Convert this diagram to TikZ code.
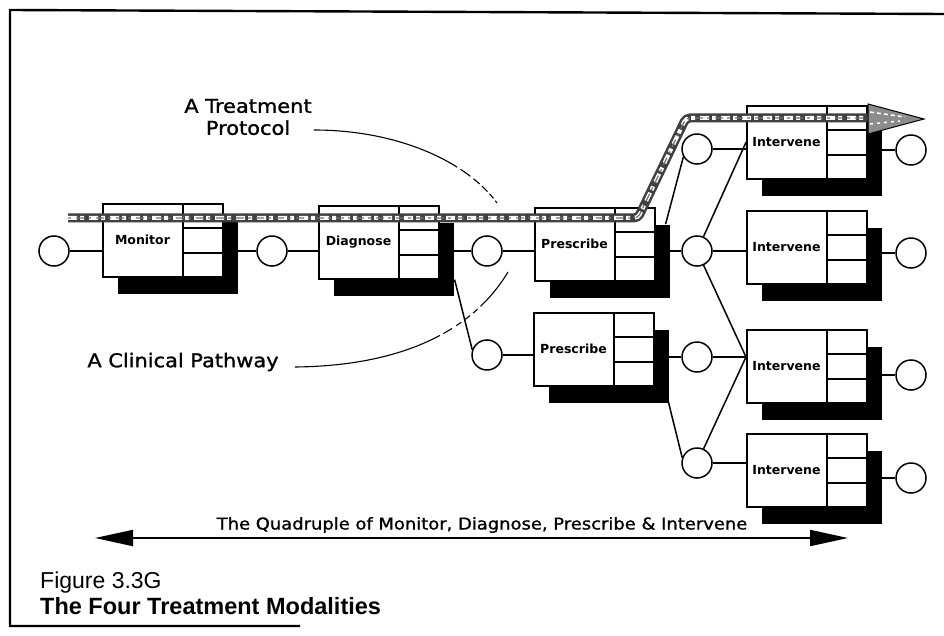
\documentclass[tikz,border=0pt]{standalone}
\usepackage{fontspec}
\setmainfont{DejaVu Sans}
\newfontfamily\boxfont{DejaVu Sans}
\newfontfamily\widefont[FakeStretch=1.1,FakeBold=1.2]{DejaVu Sans}
\newfontfamily\capfont{Liberation Sans}
\usetikzlibrary{shadows,arrows.meta,calc}
\pgfdeclarelayer{bg}
\pgfdeclarelayer{links}
\pgfsetlayers{bg,links,main}

% one process box: shadow, frame, divider, three cells, label
\newcommand\mkbox[4]{%
  \node[pbox] (#1) at (#2,#3) {};
  \draw[pline] ([xshift=81pt]#1.north west) -- ([xshift=81pt]#1.south west);
  \draw[pline] ([xshift=81pt,yshift=-25pt]#1.north west) -- ([yshift=-25pt]#1.north east);
  \draw[pline] ([xshift=81pt,yshift=-50pt]#1.north west) -- ([yshift=-50pt]#1.north east);
  \node[plabel] (#1-t) at ([xshift=40.5pt]#1.west) {#4};
}

\begin{document}
\begin{tikzpicture}[x=1pt,y=-1pt,
  pbox/.style={draw, line width=1.6pt, fill=white, anchor=north west,
    minimum width=120pt, minimum height=73pt, inner sep=0pt,
    drop shadow={shadow xshift=15pt, shadow yshift=-17pt, fill=black, opacity=1}},
  pline/.style={line width=1.5pt},
  plabel/.style={font=\boxfont\bfseries\fontsize{12.5}{14}\selectfont, inner sep=0pt},
  port/.style={circle, draw, line width=1.5pt, fill=white, minimum size=30pt, inner sep=0pt},
  link/.style={line width=1.5pt},
  note/.style={font=\widefont\fontsize{19}{22}\selectfont, align=center, inner sep=2pt},
  guide/.style={line width=1.1pt},
  band/.style={line width=9pt, black!75, rounded corners=4pt},
  bandfill/.style={line width=4pt, white, rounded corners=4pt, dash pattern=on 9pt off 3pt on 4pt off 5pt},
  bandgrain/.style={line width=1.2pt, black!55, rounded corners=4pt, dash pattern=on 3pt off 5pt on 8pt off 4pt},
]
\useasboundingbox (0,0) rectangle (944,636);
\begin{pgfonlayer}{bg}
  \fill[white] (0,0) rectangle (944,636);
\end{pgfonlayer}

% frame
\draw[line width=2.4pt] (944,14) -- (10,10) -- (10,626) -- (300,626);

% process boxes
\mkbox{mon}{102}{203}{Monitor}
\mkbox{dia}{318}{205}{Diagnose}
\mkbox{pre1}{534}{207}{Prescribe}
\mkbox{pre2}{533}{312}{Prescribe}
\mkbox{int1}{746}{105}{Intervene}
\mkbox{int2}{746}{210}{Intervene}
\mkbox{int3}{746}{329}{Intervene}
\mkbox{int4}{746}{433}{Intervene}

% ports
\node[port] (c0) at (54,251) {};
\node[port] (c1) at (272,251) {};
\node[port] (c2) at (487,251) {};
\node[port] (c3) at (487,355) {};
\node[port] (cp1) at (697,149) {};
\node[port] (cp2) at (697,251) {};
\node[port] (cp3) at (697,357) {};
\node[port] (cp4) at (697,463) {};
\node[port] (ce1) at (911,150) {};
\node[port] (ce2) at (911,253) {};
\node[port] (ce3) at (911,375) {};
\node[port] (ce4) at (911,478) {};

% connectors
\begin{pgfonlayer}{links}
  \draw[link] (c0) -- (c0 -| mon.west);
  \draw[link] (c1 -| mon.east) -- (c1);
  \draw[link] (c1) -- (c1 -| dia.west);
  \draw[link] (c2 -| dia.east) -- (c2);
  \draw[link] (c2) -- (c2 -| pre1.west);
  \draw[link] ([xshift=15pt]dia.south east) -- (c3.160);
  \draw[link] (c3) -- (c3 -| pre2.west);
  \draw[link] (cp2 -| pre1.east) -- (cp2);
  \draw[link] ([xshift=10pt,yshift=-17pt]pre1.north east) -- (cp1.210);
  \draw[link] (cp1) -- (cp1 -| int1.west);
  \draw[link] (cp2) -- (int1.west);
  \draw[link] (cp2) -- (cp2 -| int2.west);
  \coordinate (j3) at (cp3 -| int3.west);
  \draw[link] (cp2) -- (j3);
  \draw[link] (cp3) -- (j3);
  \draw[link] (cp4) -- (j3);
  \draw[link] (cp4) -- (cp4 -| int4.west);
  \draw[link] (cp3 -| pre2.east) -- (cp3);
  \draw[link] ([xshift=10pt]pre2.south east) -- (cp4.160);
  \draw[link] (ce1 -| int1.east) -- (ce1);
  \draw[link] (ce2 -| int2.east) -- (ce2);
  \draw[link] (ce3 -| int3.east) -- (ce3);
  \draw[link] (ce4 -| int4.east) -- (ce4);
\end{pgfonlayer}

% treatment protocol band
\coordinate (b0) at (68,218);
\coordinate (b1) at (638,218);
\coordinate (b2) at (686,118);
\coordinate (b3) at (870,118);
\coordinate (bt) at (924,119);
\draw[band] (b0) -- (b1) -- (b2) -- (b3);
\draw[bandfill] (b0) -- (b1) -- (b2) -- (b3);
\draw[bandgrain] (b0) -- (b1) -- (b2) -- (b3);
\draw[line width=1pt, fill=black!45] (868,104) -- (bt) -- (868,134) -- cycle;
\draw[line width=1.5pt, white, dash pattern=on 4pt off 3pt] (870,112) -- (905,117);
\draw[line width=1.5pt, white, dash pattern=on 3pt off 4pt] (870,124) -- (900,121);

% annotations
\node[note] (proto) at (248,117) {A Treatment\\Protocol};
\node[note] (clin) at (183,362) {A Clinical Pathway};
\draw[guide, dash pattern=on 150pt off 4pt on 12pt off 4pt on 8pt off 3pt on 8pt off 3pt on 6pt off 3pt]
  ([yshift=-13pt]proto.east) .. controls (400,130) and (468,163) .. (497,203);
\draw[guide, dash pattern=on 150pt off 4pt on 10pt off 5pt on 6pt off 5pt on 6pt off 4pt on 6pt off 4pt]
  ([xshift=14pt,yshift=-5pt]clin.east) .. controls (400,366) and (472,332) .. (508,272);

% span arrow
\coordinate (qa) at (95,538);
\coordinate (qb) at (848,538);
\draw[line width=2pt, {Triangle[length=38pt,width=16pt]}-{Triangle[length=38pt,width=16pt]}] (qa) -- (qb);
\node[font=\widefont\fontsize{16.3}{18}\selectfont, inner sep=0pt] (quad) at (482,525)
  {The Quadruple of Monitor, Diagnose, Prescribe \& Intervene};

% caption
\node[font=\capfont\fontsize{23}{25}\selectfont, anchor=west, inner sep=0pt] (fig) at (40,583) {Figure 3.3G};
\node[font=\capfont\bfseries\fontsize{23.5}{25}\selectfont, anchor=west, inner sep=0pt] (title) at (40,606) {The Four Treatment Modalities};
\end{tikzpicture}
\end{document}
